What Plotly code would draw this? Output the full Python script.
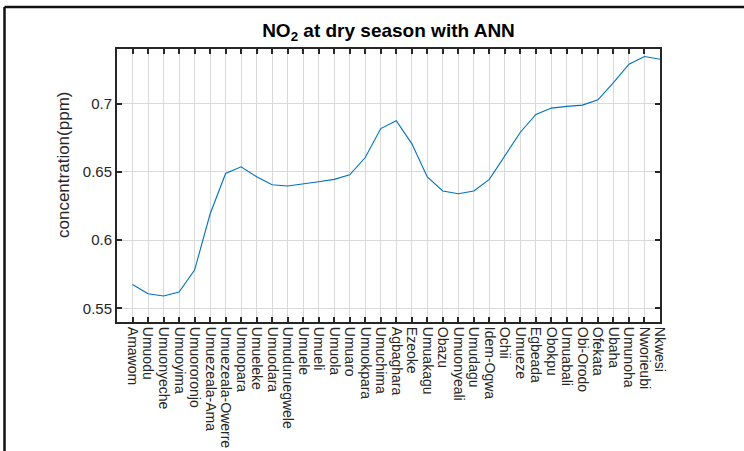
import plotly.graph_objects as go

villages = ["Amawom", "Umuodu", "Umuonyeche", "Umuoyima", "Umuororonjo",
            "Umuezeala-Ama", "Umuezeala-Owerre", "Umuopara", "Umueleke", "Umuodara",
            "Umuduruegwele", "Umuele", "Umueli", "Umuola", "Umuaro", "Umuokpara",
            "Umuchima", "Agbaghara", "Ezeoke", "Umuakagu", "Obazu", "Umuonyeali",
            "Umudagu", "Idem-Ogwa", "Ochii", "Umueze", "Egbeada", "Obokpu",
            "Umuabali", "Obi-Orodo", "Ofekata", "Ubaha", "Umunoha", "Nworieubi", "Nkwesi"]

no2_ppm = [0.5675, 0.5607, 0.5590, 0.5620, 0.5780, 0.6191, 0.6488, 0.6537, 0.6464,
           0.6405, 0.6396, 0.6410, 0.6427, 0.6445, 0.6478, 0.6605, 0.6817, 0.6875,
           0.6707, 0.6463, 0.6360, 0.6340, 0.6360, 0.6445, 0.6615, 0.6790, 0.6921,
           0.6967, 0.6980, 0.6989, 0.7028, 0.7153, 0.7289, 0.7345, 0.7325]

y_ticks = [0.55, 0.6, 0.65, 0.7]
y_tick_labels = ["0.55", "0.6", "0.65", "0.7"]

positions = list(range(1, len(villages) + 1))

fig = go.Figure()
fig.add_trace(go.Scatter(x=positions, y=no2_ppm, mode="lines",
                         line=dict(color="#0072BD", width=1.1),
                         showlegend=False, hoverinfo="skip"))

axis_color = "#262626"
font_family = "Liberation Sans, Arial, sans-serif"

pw, ph = 543.0, 273.0

fig.update_layout(
    width=744, height=451,
    margin=dict(l=117, r=84, t=49, b=129, autoexpand=False),
    paper_bgcolor="white", plot_bgcolor="white",
    font=dict(family=font_family, color=axis_color, size=13),
    title=dict(text="<b>NO<sub>2</sub> at dry season with ANN</b>",
               x=(117 + 660) / 2 / 744, xanchor="center",
               y=1 - 30 / 451, yanchor="middle",
               font=dict(size=19, color="#000000", family=font_family)),
    xaxis=dict(range=[0, 35], tickvals=positions, ticktext=villages,
               tickangle=90, ticks="inside", ticklen=5, tickwidth=1.5,
               tickcolor=axis_color, showline=True, linecolor=axis_color,
               linewidth=2, mirror="ticks", showgrid=True, gridcolor="#d9d9d9",
               gridwidth=1, zeroline=False, tickfont=dict(size=14),
               automargin=False),
    yaxis=dict(range=[0.54, 0.74], tickvals=y_ticks, ticktext=y_tick_labels,
               ticks="inside", ticklen=5, tickwidth=1.5, tickcolor=axis_color,
               showline=True, linecolor=axis_color, linewidth=2, mirror="ticks",
               showgrid=True, gridcolor="#d9d9d9", gridwidth=1, zeroline=False,
               tickfont=dict(size=15), automargin=False),
)

# y-axis title as a rotated annotation (positioned like the reference)
fig.add_annotation(text="concentration(ppm)", textangle=-90, showarrow=False,
                   xref="paper", yref="paper",
                   x=(63 - 117) / pw, y=1 - (165 - 49) / ph,
                   xanchor="center", yanchor="middle",
                   font=dict(size=17, color=axis_color, family=font_family))

# outer figure frame (left and top edges visible)
fx = (4.5 - 117) / pw
fy = 1 + (49 - 7) / ph
fig.add_shape(type="line", xref="paper", yref="paper", x0=fx, x1=(760 - 117) / pw,
              y0=fy, y1=fy, line=dict(color="#111111", width=2.5))
fig.add_shape(type="line", xref="paper", yref="paper", x0=fx, x1=fx,
              y0=fy, y1=-(460 - 322) / ph, line=dict(color="#111111", width=2.5))

fig.write_html("out.html", config={"displayModeBar": False},
               post_script="document.body.style.margin='0px';")
